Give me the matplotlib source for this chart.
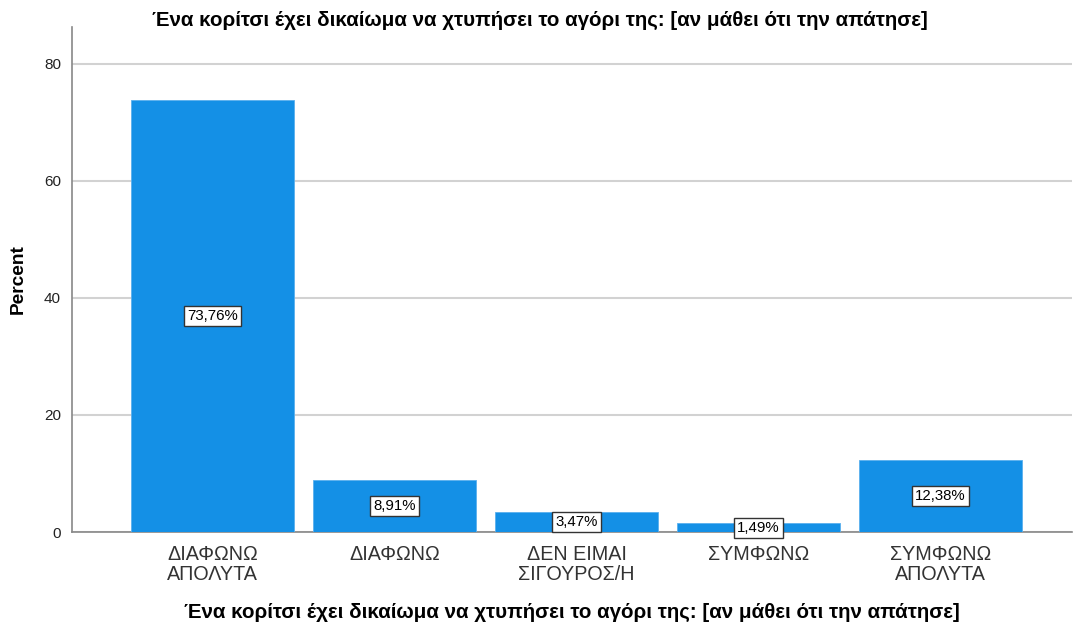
import matplotlib
matplotlib.use("Agg")
import matplotlib.pyplot as plt

categories = ["ΔΙΑΦΩΝΩ\nΑΠΟΛΥΤΑ", "ΔΙΑΦΩΝΩ", "ΔΕΝ ΕΙΜΑΙ\nΣΙΓΟΥΡΟΣ/Η", "ΣΥΜΦΩΝΩ", "ΣΥΜΦΩΝΩ\nΑΠΟΛΥΤΑ"]
percents = [73.76, 8.91, 3.47, 1.49, 12.38]
value_labels = ["73,76%", "8,91%", "3,47%", "1,49%", "12,38%"]
yticks = [0, 20, 40, 60, 80]
title = "Ένα κορίτσι έχει δικαίωμα να χτυπήσει το αγόρι της: [αν μάθει ότι την απάτησε]"

plt.rcParams['font.family'] = ['Liberation Sans', 'DejaVu Sans']

fig = plt.figure(figsize=(10.73, 6.3), dpi=100)
ax = fig.add_axes([72/1073, 1-532/630, 1000/1073, 505/630])

x = list(range(len(categories)))
ax.bar(x, percents, width=0.896, color='#1490e6', edgecolor='#5ab0ee', linewidth=0.6, zorder=3)

for xi, v, lab in zip(x, percents, value_labels):
    ax.text(xi, v/2, lab, ha='center', va='center', fontsize=10.8, color='black', zorder=5,
            bbox=dict(boxstyle='square,pad=0.2', facecolor='white', edgecolor='#333333', linewidth=1))

ax.set_xlim(-0.772, 4.723)
ax.set_ylim(0, 86.3)
ax.set_yticks(yticks)
ax.set_yticklabels([str(t) for t in yticks], fontsize=11, color='#222222')
ax.set_xticks(x)
ax.set_xticklabels(categories, fontsize=14.2, color='#333333', linespacing=1.1)
ax.tick_params(axis='x', length=0, pad=9)
ax.tick_params(axis='y', length=0, pad=8)

ax.yaxis.grid(True, color='#d2d2d2', linewidth=1.5, zorder=0)
ax.set_axisbelow(True)
for s in ['top', 'right']:
    ax.spines[s].set_visible(False)
for s in ['left', 'bottom']:
    ax.spines[s].set_color('#888888')
    ax.spines[s].set_linewidth(1.2)

ax.set_ylabel("Percent", fontsize=13.8, fontweight='bold', labelpad=12)
ax.set_xlabel(title, fontsize=14.8, fontweight='bold', labelpad=14)
fig.text(540/1073, 1-20/630, title, ha='center', va='center', fontsize=14.8, fontweight='bold')

fig.savefig("out.png", dpi=100, facecolor='white')
